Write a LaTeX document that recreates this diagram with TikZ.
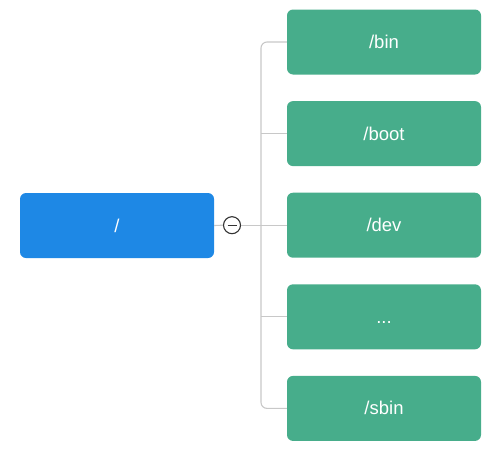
\documentclass[tikz,border=0pt]{standalone}
\usepackage{fontspec}
\setmainfont{Liberation Sans}
\begin{document}
\begin{tikzpicture}[x=1pt,y=-1pt,
  box/.style={rounded corners=6pt, minimum width=194pt, minimum height=65pt, inner sep=0pt, text=white, text height=13pt, text depth=0pt, font=\fontsize{18.5}{22}\selectfont},
  rootbox/.style={box, fill=rootblue},
  childbox/.style={box, fill=childgreen},
  link/.style={draw=linegray, line width=1.1pt},
  toggle/.style={circle, draw=togglegray, line width=1.1pt, fill=white, minimum size=17pt, inner sep=0pt}]
\definecolor{rootblue}{HTML}{1E88E5}
\definecolor{childgreen}{HTML}{47AD8B}
\definecolor{linegray}{HTML}{C8C8C8}
\definecolor{togglegray}{HTML}{333333}
\useasboundingbox (0,0) rectangle (500,455);
\node[rootbox] (root) at (117,225.5) {/};
\node[childbox] (c1) at (384,42) {/bin};
\node[childbox] (c2) at (384,133.6) {/boot};
\node[childbox] (c3) at (384,225.2) {/dev};
\node[childbox] (c4) at (384,316.8) {...};
\node[childbox] (c5) at (384,408.4) {/sbin};
\coordinate (j) at (261,225.2);
\node[toggle] (tg) at (232,225.2) {};
\draw[link] (root.east) -- (tg.west);
\draw[link] (tg.east) -- (c3.west);
\draw[link, rounded corners=6pt] (c1.west) -| (j) |- (c5.west);
\draw[link] (c2.west) -- (c2.west -| j);
\draw[link] (c4.west) -- (c4.west -| j);
\draw[togglegray, line width=1.1pt] ([xshift=-4.5pt]tg.center) -- ([xshift=4.5pt]tg.center);
\end{tikzpicture}
\end{document}
